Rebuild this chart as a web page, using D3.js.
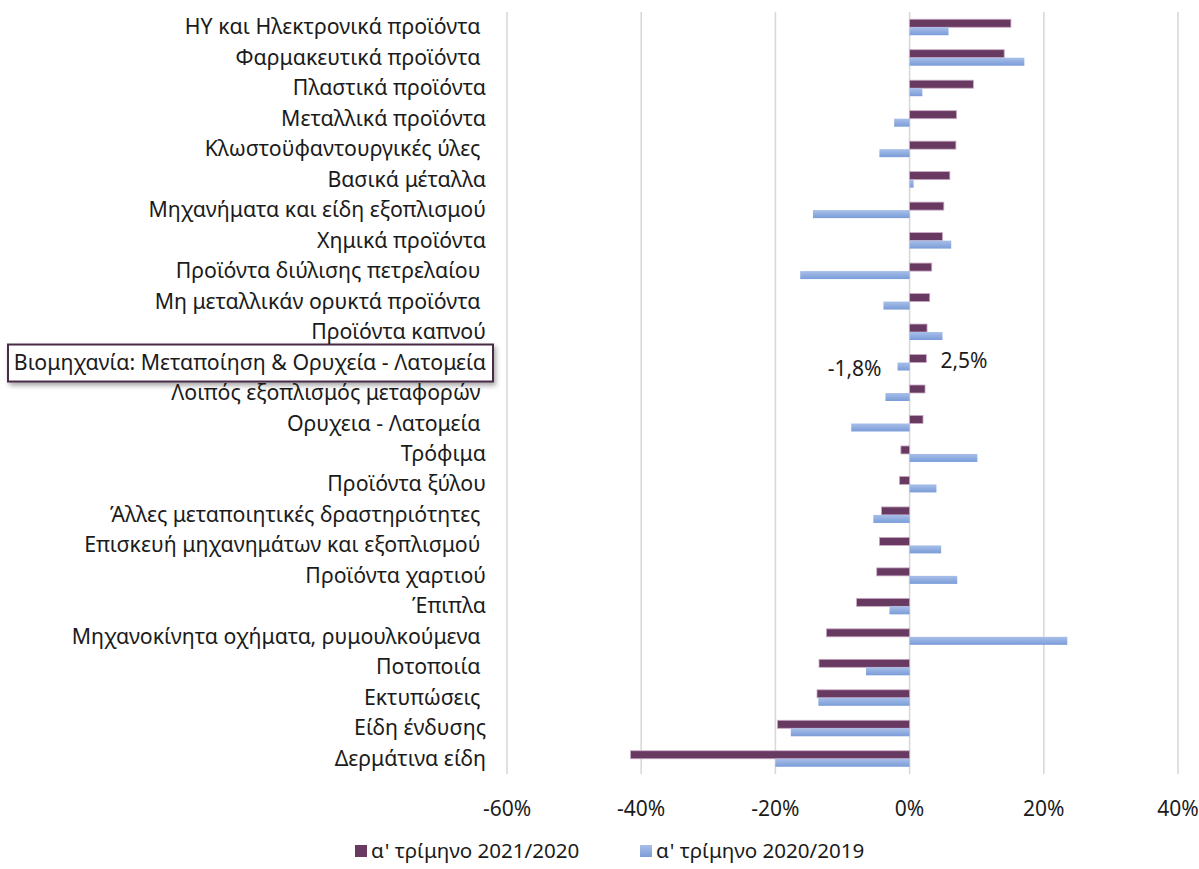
<!DOCTYPE html>
<html>
<head>
<meta charset="utf-8">
<script src="https://cdn.jsdelivr.net/npm/d3@7"></script>
<style>
  body { margin: 0; background: #fff; }
  svg text { font-family: "Noto Sans", "Open Sans", sans-serif; fill: #1b1b1b; white-space: pre; }
</style>
</head>
<body>
<svg id="chart" width="1199" height="869"></svg>
<script>
// categories, top to bottom (some labels keep the trailing space of the original)
var categories = [
  "ΗΥ και Ηλεκτρονικά προϊόντα ",
  "Φαρμακευτικά προϊόντα ",
  "Πλαστικά προϊόντα",
  "Μεταλλικά προϊόντα",
  "Κλωστοϋφαντουργικές ύλες ",
  "Βασικά μέταλλα",
  "Μηχανήματα και είδη εξοπλισμού",
  "Χημικά προϊόντα",
  "Προϊόντα διύλισης πετρελαίου ",
  "Μη μεταλλικάν ορυκτά προϊόντα ",
  "Προϊόντα καπνού",
  "Βιομηχανία: Μεταποίηση & Ορυχεία - Λατομεία",
  "Λοιπός εξοπλισμός μεταφορών ",
  "Ορυχεια - Λατομεία ",
  "Τρόφιμα",
  "Προϊόντα ξύλου",
  "Άλλες μεταποιητικές δραστηριότητες ",
  "Επισκευή μηχανημάτων και εξοπλισμού ",
  "Προϊόντα χαρτιού",
  "Έπιπλα",
  "Μηχανοκίνητα οχήματα, ρυμουλκούμενα ",
  "Ποτοποιία ",
  "Εκτυπώσεις ",
  "Είδη ένδυσης",
  "Δερμάτινα είδη"
];

// α' τρίμηνο 2021/2020
var q1_2021 = [0.151, 0.141, 0.095, 0.070, 0.069, 0.060, 0.051, 0.049, 0.033, 0.030,
               0.026, 0.025, 0.023, 0.020, -0.013, -0.015, -0.042, -0.045, -0.049, -0.079,
               -0.124, -0.135, -0.138, -0.197, -0.416];

// α' τρίμηνο 2020/2019
var q1_2020 = [0.058, 0.171, 0.019, -0.023, -0.045, 0.006, -0.144, 0.062, -0.163, -0.039,
               0.049, -0.018, -0.036, -0.087, 0.101, 0.040, -0.054, 0.047, 0.071, -0.030,
               0.235, -0.065, -0.136, -0.177, -0.200];

var seriesNames = ["α' τρίμηνο 2021/2020", "α' τρίμηνο 2020/2019"];
var xTicks = [-0.6, -0.4, -0.2, 0, 0.2, 0.4];
var highlighted = "Βιομηχανία: Μεταποίηση & Ορυχεία - Λατομεία";

var purple = '#683a62';

var svg = d3.select('#chart');
var margin = {top: 12, left: 507, right: 21, bottom: 95};
var width = 1199 - margin.left - margin.right,
    height = 869 - margin.top - margin.bottom;

var locale = d3.formatLocale({decimal: ',', thousands: '.', grouping: [3], currency: ['', '€'], minus: '-'});
var pct0 = locale.format('.0%'), pct1 = locale.format('.1%');

var x = d3.scaleLinear().domain([-0.6, 0.4]).range([0, width]);
var y = d3.scaleBand().domain(categories).range([0, height]).paddingInner(0.475).paddingOuter(0.2375);
var ySub = d3.scaleBand().domain([0, 1]).range([0, y.bandwidth()]);

// gradient for the blue series
var defs = svg.append('defs');
var grad = defs.append('linearGradient').attr('id', 'blueGrad')
    .attr('x1', 0).attr('y1', 0).attr('x2', 0).attr('y2', 1);
grad.append('stop').attr('offset', '0%').attr('stop-color', '#a8bfe9');
grad.append('stop').attr('offset', '100%').attr('stop-color', '#7a9cd8');

var shadow = defs.append('filter').attr('id', 'shadow')
    .attr('x', '-10%').attr('y', '-40%').attr('width', '120%').attr('height', '200%');
shadow.append('feDropShadow').attr('dx', 2).attr('dy', 3).attr('stdDeviation', 2.5)
    .attr('flood-color', '#000').attr('flood-opacity', 0.35);

var g = svg.append('g').attr('transform', 'translate(' + margin.left + ',' + margin.top + ')');

// vertical gridlines
g.selectAll('.grid').data(xTicks).enter().append('line')
    .attr('class', 'grid')
    .attr('x1', function(d) { return x(d); })
    .attr('x2', function(d) { return x(d); })
    .attr('y1', 0).attr('y2', height)
    .style('stroke', '#d9d9d9').style('stroke-width', 1.6);

// x tick labels
g.selectAll('.tick-label').data(xTicks).enter().append('text')
    .attr('class', 'tick-label')
    .attr('x', function(d) { return x(d); })
    .attr('y', height + 34)
    .attr('dy', '0.36em')
    .attr('text-anchor', 'middle')
    .style('font-size', '21px')
    .text(function(d) { return pct0(d); });

// bars
var rows = categories.map(function(c, i) { return {cat: c, a: q1_2021[i], b: q1_2020[i]}; });

g.selectAll('.bar-a').data(rows).enter().append('rect')
    .attr('class', 'bar-a')
    .attr('x', function(d) { return x(Math.min(0, d.a)); })
    .attr('y', function(d) { return y(d.cat) + ySub(0); })
    .attr('width', function(d) { return Math.abs(x(d.a) - x(0)); })
    .attr('height', ySub.bandwidth())
    .style('fill', purple)
    .style('stroke', '#c9aac4').style('stroke-width', 0.8);

g.selectAll('.bar-b').data(rows).enter().append('rect')
    .attr('class', 'bar-b')
    .attr('x', function(d) { return x(Math.min(0, d.b)); })
    .attr('y', function(d) { return y(d.cat) + ySub(1); })
    .attr('width', function(d) { return Math.abs(x(d.b) - x(0)); })
    .attr('height', ySub.bandwidth())
    .style('fill', 'url(#blueGrad)');

// box round the total label
var hy = y(highlighted) + y.bandwidth() / 2;
g.append('rect')
    .attr('x', 8 - margin.left)
    .attr('y', hy - 18)
    .attr('width', margin.left - 22)
    .attr('height', 37)
    .style('fill', '#fff')
    .style('stroke', '#4a2c47').style('stroke-width', 2)
    .attr('filter', 'url(#shadow)');

// category labels
g.selectAll('.cat-label').data(categories).enter().append('text')
    .attr('class', 'cat-label')
    .attr('x', -21)
    .attr('y', function(d) { return y(d) + y.bandwidth() / 2; })
    .attr('dy', '0.33em')
    .attr('text-anchor', 'end')
    .style('font-size', '21.3px')
    .text(function(d) { return d; });

// data labels for the total row only
var tot = rows.filter(function(d) { return d.cat === highlighted; })[0];
g.append('text')
    .attr('x', x(tot.a) + 14)
    .attr('y', y(tot.cat) + ySub(0) + ySub.bandwidth() / 2 + 2)
    .attr('dy', '0.36em')
    .style('font-size', '21px')
    .text(pct1(tot.a));
g.append('text')
    .attr('x', x(tot.b) - 16)
    .attr('y', y(tot.cat) + ySub(1) + ySub.bandwidth() / 2 + 2)
    .attr('dy', '0.36em')
    .attr('text-anchor', 'end')
    .style('font-size', '21px')
    .text(pct1(tot.b));

// legend
var legend = svg.append('g').attr('class', 'legend');
var legendX = [355, 640];
var legendFill = [purple, 'url(#blueGrad)'];
seriesNames.forEach(function(name, i) {
    legend.append('rect')
        .attr('x', legendX[i]).attr('y', 845)
        .attr('width', 12).attr('height', 12)
        .style('fill', legendFill[i]);
    legend.append('text')
        .attr('x', legendX[i] + 16).attr('y', 851)
        .attr('dy', '0.36em')
        .style('font-size', '20.6px')
        .text(name);
});
</script>
</body>
</html>
